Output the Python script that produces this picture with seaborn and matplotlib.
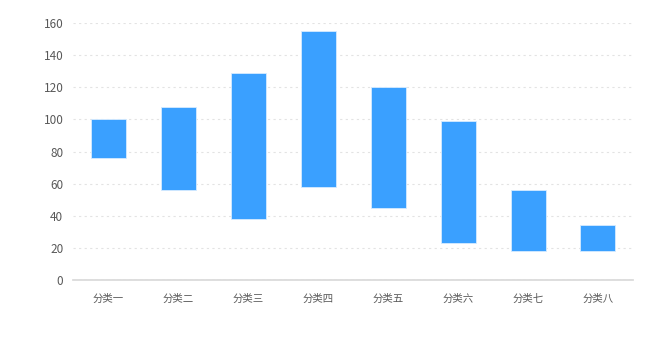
import seaborn as sns
import matplotlib.pyplot as plt
import pandas as pd

sns.set_theme(style="white")
plt.rcParams['font.family'] = ['Noto Sans CJK SC', 'DejaVu Sans']

# Range Data For Each Category
categories = ["分类一", "分类二", "分类三", "分类四", "分类五", "分类六", "分类七", "分类八"]
low_values = [76, 56, 38, 58, 45, 23, 18, 18]
high_values = [100, 108, 129, 155, 120, 99, 56, 34]
y_ticks = [0, 20, 40, 60, 80, 100, 120, 140, 160]

df = pd.DataFrame({"category": categories, "low": low_values, "high": high_values})
df["span"] = df["high"] - df["low"]

f = plt.figure(figsize=(6.58, 3.52), dpi=100)
ax = f.add_axes([0.111, 0.2045, 0.851, 0.7302])

# Floating Bars: Height Is The Span, Bottom Is The Low Value
sns.barplot(x="category", y="span", data=df, order=categories, bottom=df["low"].values,
            color="#3AA0FF", saturation=1, width=0.5, edgecolor="#d6ebff", linewidth=0.6, ax=ax)

# Tweak The Visual Presentation
ax.set_ylim(0, 160)
ax.set_xlim(-0.5, len(categories) - 0.5)
ax.set_yticks(y_ticks)
ax.yaxis.grid(True, linestyle=(0, (2, 3)), color="#e3e3e3", linewidth=0.8)
ax.set_axisbelow(True)
ax.set(xlabel="", ylabel="")
for side in ["top", "right", "left"]:
    ax.spines[side].set_visible(False)
ax.spines["bottom"].set_color("#d9d9d9")
ax.tick_params(axis="x", length=4, color="#d9d9d9", labelsize=7.5, labelcolor="#595959", pad=6)
ax.tick_params(axis="y", length=0, labelsize=8.5, labelcolor="#595959", pad=7)

f.savefig("out.png", dpi=100)
